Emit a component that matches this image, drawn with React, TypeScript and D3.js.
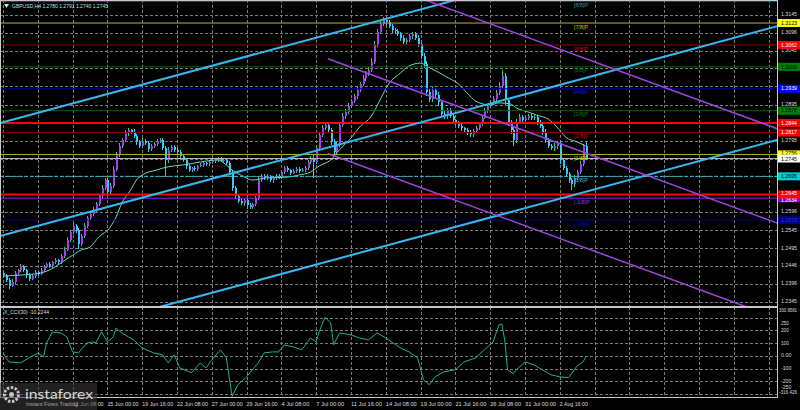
import React from "react";
import * as d3 from "d3";

// GBPUSD H4 closes, one per bar (open of a bar = previous close)
const firstOpen = 1.2425;
const closes = [
  1.2420, 1.2406, 1.2390, 1.2401, 1.2426, 1.2434, 1.2445, 1.2434, 1.2420, 1.2409, 1.2417, 1.2429, 1.2423, 1.2434, 1.2443, 1.2451, 1.2445, 1.2456, 1.2462, 1.2456,
  1.2473, 1.2490, 1.2518, 1.2540, 1.2557, 1.2546, 1.2507, 1.2529, 1.2557, 1.2579, 1.2590, 1.2601, 1.2618, 1.2640, 1.2663, 1.2685, 1.2652, 1.2668, 1.2713, 1.2755,
  1.2780, 1.2797, 1.2816, 1.2824, 1.2819, 1.2808, 1.2791, 1.2780, 1.2794, 1.2788, 1.2771, 1.2780, 1.2785, 1.2794, 1.2797, 1.2774, 1.2741, 1.2769, 1.2777, 1.2769,
  1.2763, 1.2752, 1.2741, 1.2724, 1.2713, 1.2719, 1.2716, 1.2724, 1.2727, 1.2732, 1.2730, 1.2735, 1.2738, 1.2741, 1.2744, 1.2738, 1.2741, 1.2732, 1.2707, 1.2663,
  1.2640, 1.2627, 1.2621, 1.2629, 1.2615, 1.2610, 1.2618, 1.2635, 1.2685, 1.2696, 1.2691, 1.2696, 1.2685, 1.2691, 1.2696, 1.2693, 1.2707, 1.2719, 1.2713, 1.2705,
  1.2710, 1.2716, 1.2710, 1.2713, 1.2719, 1.2735, 1.2746, 1.2735, 1.2774, 1.2810, 1.2830, 1.2838, 1.2824, 1.2791, 1.2763, 1.2783, 1.2838, 1.2863, 1.2875, 1.2891,
  1.2905, 1.2919, 1.2936, 1.2953, 1.2969, 1.2981, 1.2992, 1.3014, 1.3061, 1.3098, 1.3120, 1.3131, 1.3125, 1.3114, 1.3103, 1.3100, 1.3092, 1.3081, 1.3070, 1.3075,
  1.3086, 1.3092, 1.3081, 1.3064, 1.3031, 1.3008, 1.2930, 1.2911, 1.2936, 1.2922, 1.2902, 1.2869, 1.2863, 1.2880, 1.2863, 1.2852, 1.2844, 1.2836, 1.2830, 1.2824,
  1.2819, 1.2813, 1.2822, 1.2830, 1.2841, 1.2858, 1.2877, 1.2891, 1.2900, 1.2911, 1.2928, 1.2947, 1.2975, 1.2908, 1.2847, 1.2824, 1.2797, 1.2847, 1.2861, 1.2852,
  1.2858, 1.2863, 1.2858, 1.2861, 1.2847, 1.2836, 1.2819, 1.2797, 1.2780, 1.2774, 1.2780, 1.2788, 1.2741, 1.2719, 1.2702, 1.2685, 1.2674, 1.2691, 1.2708, 1.2730,
  1.2780, 1.2745,
];
// wick lengths in pips above / below the body
const upperWick = [
  6, 4, 5, 8, 5, 4, 7, 3, 4, 5, 6, 4, 3, 5, 6, 4, 5, 3, 6, 4,
  5, 7, 8, 6, 9, 5, 4, 6, 7, 5, 6, 8, 5, 7, 9, 6, 5, 8, 10, 7,
  8, 6, 9, 5, 4, 7, 6, 5, 8, 4, 6, 5, 7, 4, 6, 5, 7, 8, 5, 6,
  4, 5, 6, 4, 5, 3, 5, 4, 6, 5, 4, 5, 3, 6, 4, 5, 4, 6, 5, 7,
  6, 5, 7, 4, 6, 5, 4, 6, 8, 7, 5, 6, 4, 5, 7, 5, 6, 4, 5, 4,
  5, 4, 6, 5, 4, 7, 6, 8, 9, 7, 8, 10, 6, 5, 7, 8, 6, 9, 7, 8,
  6, 7, 8, 6, 9, 7, 8, 10, 12, 9, 8, 8, 6, 7, 5, 6, 7, 5, 8, 6,
  7, 5, 6, 8, 6, 7, 10, 8, 9, 6, 7, 5, 8, 6, 5, 7, 4, 6, 5, 4,
  5, 6, 4, 5, 7, 6, 8, 6, 7, 9, 8, 10, 17, 9, 7, 6, 8, 9, 7, 6,
  5, 6, 7, 5, 6, 4, 5, 7, 6, 5, 8, 6, 5, 4, 6, 5, 6, 7, 5, 8,
  6, 11,
];
const lowerWick = [
  5, 6, 9, 4, 5, 6, 4, 5, 7, 6, 4, 5, 6, 4, 5, 3, 6, 5, 4, 7,
  5, 6, 4, 7, 5, 8, 14, 6, 5, 7, 6, 4, 5, 6, 8, 7, 9, 6, 5, 4,
  6, 5, 4, 7, 6, 5, 8, 7, 6, 5, 9, 6, 5, 4, 7, 6, 48, 8, 6, 5,
  7, 6, 5, 8, 6, 7, 5, 6, 4, 5, 6, 5, 4, 6, 5, 4, 6, 5, 7, 8,
  9, 7, 6, 8, 10, 7, 6, 5, 6, 5, 7, 6, 5, 8, 6, 5, 4, 6, 5, 6,
  4, 5, 6, 4, 5, 6, 5, 44, 6, 7, 5, 6, 8, 9, 10, 7, 5, 6, 7, 5,
  6, 5, 7, 6, 5, 8, 6, 7, 5, 6, 7, 5, 8, 6, 9, 7, 6, 8, 7, 6,
  5, 7, 6, 8, 9, 10, 12, 8, 9, 7, 10, 8, 7, 9, 6, 8, 7, 6, 8, 9,
  8, 7, 9, 6, 5, 6, 4, 5, 6, 5, 7, 6, 5, 14, 12, 10, 16, 8, 6, 7,
  6, 5, 7, 6, 8, 7, 9, 8, 7, 6, 8, 9, 10, 7, 9, 8, 17, 8, 6, 5,
  6, 5,
];

// moving average, read at bar indices
const maBars = [0, 6, 13, 16, 20, 23, 27, 30, 33, 37, 39, 41, 44, 46, 48, 53, 57, 62, 68, 74, 77, 79, 82, 86, 91, 98, 102, 106, 109, 113, 116, 120, 123, 127, 130, 133, 137, 140, 144, 146, 150, 153, 157, 160, 163, 168, 171, 175, 177, 181, 184, 188, 191, 194, 198, 201];
const maValues = [1.2417, 1.2420, 1.2426, 1.2434, 1.2454, 1.2470, 1.2490, 1.2498, 1.2526, 1.2554, 1.2582, 1.2621, 1.2657, 1.2685, 1.2699, 1.2713, 1.2722, 1.2727, 1.2735, 1.2741, 1.2727, 1.2713, 1.2699, 1.2685, 1.2691, 1.2693, 1.2699, 1.2707, 1.2724, 1.2741, 1.2769, 1.2802, 1.2833, 1.2863, 1.2908, 1.2953, 1.2983, 1.3003, 1.3011, 1.3003, 1.2986, 1.2972, 1.2953, 1.2928, 1.2905, 1.2894, 1.2900, 1.2897, 1.2886, 1.2875, 1.2866, 1.2855, 1.2833, 1.2805, 1.2791, 1.2780];

// CCI(30), read at bar indices
const cciBars = [0, 2, 6, 9, 12, 14, 15, 17, 20, 22, 24, 26, 29, 31, 32, 34, 36, 38, 39, 41, 45, 48, 52, 55, 57, 59, 61, 65, 68, 70, 72, 75, 77, 79, 81, 84, 88, 90, 93, 95, 97, 100, 103, 106, 108, 109, 111, 113, 114, 116, 120, 123, 126, 129, 132, 137, 140, 143, 145, 147, 149, 152, 156, 159, 163, 166, 169, 171, 172, 173, 174, 176, 177, 180, 183, 186, 189, 192, 195, 197, 198, 200, 201];
const cciValues = [23, -47, -55, -16, 23, -8, 101, 187, 179, 148, 31, 23, 101, 109, 101, 187, 109, 148, 218, 179, 125, 62, 23, 8, -55, 8, -94, -133, -55, -94, -31, 47, -16, -316.426, -226, -164, -55, 23, 31, 31, 86, 70, 47, 140, 109, 187, 300.9581, 257, 86, 179, 164, 140, 125, 179, 140, 62, 31, -16, -187, -226, -164, -125, -109, -47, -16, 47, 109, 242, 250, 125, -109, -140, -109, -47, -70, -109, -148, -164, -171, -109, -78, -47, -10.2244];

const priceTicks = [1.3145, 1.3096, 1.3045, 1.2996, 1.2946, 1.2895, 1.2845, 1.2795, 1.2745, 1.2695, 1.2645, 1.2596, 1.2545, 1.2495, 1.2446, 1.2396, 1.2345];
const cciTicks = [250, 200, 100, 0, -100, -200, -250];
const cciTickText = ["250", "200", "100", "0.00", "-100", "-200", "-250"];
const cciMax = 300.9581;
const cciMin = -316.426;
const cciGrid = [300, 200, 100, 0, -100, -200, -300];

const timeLabels = ["12 Jun 08:00", "15 Jun 00:00", "19 Jun 16:00", "22 Jun 08:00", "27 Jun 00:00", "29 Jun 16:00", "4 Jul 08:00", "7 Jul 00:00", "11 Jul 16:00", "14 Jul 08:00", "19 Jul 00:00", "21 Jul 16:00", "26 Jul 08:00", "31 Jul 00:00", "2 Aug 16:00"];
const timeLabelBars = [24, 36, 48, 60, 72, 84, 96, 108, 120, 132, 144, 156, 168, 180, 192];
const gridBars = [0, 12, 24, 36, 48, 60, 72, 84, 96, 108, 120, 132, 144, 156, 168, 180, 192, 204, 216, 228, 240, 252, 264];

// Murray math levels
const murrayNames = ["[8/8]P", "[7/8]P", "[6/8]P", "[5/8]P", "[4/8]P", "[3/8]P", "[2/8]P", "[1/8]P", "[0/8]P", "[-1/8]P", "[-2/8]P"];
const murrayPrices = [1.31836, 1.31226, 1.30615, 1.30005, 1.29395, 1.28784, 1.28174, 1.27563, 1.26953, 1.26343, 1.25732];
const murrayText = ["", "1.3123", "1.3062", "1.3000", "1.2939", "1.2878", "1.2817", "1.2756", "1.2695", "1.2634", "1.2573"];
const murrayLine = ["#008080", "#b4b42c", "#8b0000", "#006400", "#0000a0", "#006400", "#8b0000", "#b4b42c", "#22bcd0", "#8a2be2", "#000080"];
const murrayTextColor = ["#1aa0b0", "#c8c800", "#d00000", "#008000", "#1010ff", "#008000", "#d00000", "#c8c800", "#22c4d8", "#9a30e0", "#0000c8"];
const murrayBox = ["", "#ffff00", "#ff0000", "#008000", "#0000ff", "#008000", "#ff0000", "#ffff00", "#00ced1", "#9400d3", "#00008b"];
const murrayBoxText = ["", "#000", "#fff", "#000", "#fff", "#000", "#fff", "#000", "#000", "#fff", "#3030c0"];

// support / resistance lines
const srPrices = [1.2844, 1.2645];
const srText = ["1.2844", "1.2645"];

// regression channels: bar index and prices at both ends
const upChannel = { from: -1, to: 267, start: [1.2844, 1.2529, 1.2211], end: [1.3429, 1.3114, 1.2797] };
const downChannel = { from: 112, to: 267, start: [1.3286, 1.3023, 1.2759], end: [1.2828, 1.2565, 1.2300] };

const FONT = "Liberation Sans, Arial, sans-serif";

export default function App() {
  const right = 777;
  const mainBottom = 306;
  const cciTop = 307;
  const cciBottom = 397;

  const x = d3.scaleLinear().domain([0, 201]).range([3, 3 + 201 * 2.9]);
  const y = d3.scaleLinear().domain([1.2345, 1.3145]).range([302, 15]);
  const cy = d3.scaleLinear().domain([cciMin, cciMax]).range([396.3, 317.4]);

  const bars = closes.map((c, i) => {
    const o = i === 0 ? firstOpen : closes[i - 1];
    const h = Math.max(o, c) + upperWick[i] / 10000;
    const l = Math.min(o, c) - lowerWick[i] / 10000;
    return { i, o, h, l, c };
  });
  const last = bars[bars.length - 1];

  const maLine = d3
    .line<number>()
    .x((_, k) => x(maBars[k]))
    .y((v) => y(v))
    .curve(d3.curveMonotoneX);
  const cciLine = d3
    .line<number>()
    .x((_, k) => x(cciBars[k]))
    .y((v) => cy(v));

  // coloured price boxes on the right scale: [price, box colour, text colour, text, text nudge]
  const boxes: [number, string, string, string, number][] = [];
  murrayPrices.forEach((p, k) => {
    if (murrayBox[k]) boxes.push([p, murrayBox[k], murrayBoxText[k], murrayText[k], k === 7 ? -1.2 : k === 9 ? 1.6 : 0]);
  });
  srPrices.forEach((p, k) => boxes.push([p, "#ff0000", "#fff", srText[k], k === 1 ? -1.6 : 0]));
  boxes.push([last.c, "#ffffff", "#000", last.c.toFixed(4), 1.2]);
  const visibleTicks = priceTicks.filter((p) => boxes.every((b) => Math.abs(y(p) - y(b[0])) >= 5));

  const gridStroke = "#7a7a7a";
  const labelFill = "#dcdcdc";

  return (
    <svg width={800} height={410} style={{ position: "absolute", left: 0, top: 0, background: "#000" }} fontFamily={FONT}>
      <defs>
        <clipPath id="mainClip">
          <rect x={0} y={0} width={right} height={mainBottom} />
        </clipPath>
        <clipPath id="cciClip">
          <rect x={0} y={cciTop} width={right} height={cciBottom - cciTop} />
        </clipPath>
      </defs>
      <rect width={800} height={410} fill="#000" />

      {/* grid */}
      <g stroke={gridStroke} strokeDasharray="3,2" shapeRendering="crispEdges">
        {priceTicks.map((p) => (
          <line key={"h" + p} x1={0} x2={right} y1={Math.round(y(p)) + 0.5} y2={Math.round(y(p)) + 0.5} />
        ))}
        {gridBars.map((b) => (
          <line key={"v" + b} x1={Math.round(x(b)) + 0.5} x2={Math.round(x(b)) + 0.5} y1={0} y2={mainBottom} />
        ))}
        {cciGrid.map((v) => (
          <line key={"c" + v} x1={0} x2={right} y1={Math.round(cy(v)) + 0.5} y2={Math.round(cy(v)) + 0.5} />
        ))}
        {gridBars.map((b) => (
          <line key={"cv" + b} x1={Math.round(x(b)) + 0.5} x2={Math.round(x(b)) + 0.5} y1={cciTop} y2={cciBottom} />
        ))}
      </g>

      {/* candles */}
      <g clipPath="url(#mainClip)" shapeRendering="crispEdges">
        {bars.map((b) => {
          const up = b.c >= b.o;
          const cx = Math.round(x(b.i));
          const top = y(Math.max(b.o, b.c));
          const bot = y(Math.min(b.o, b.c));
          return (
            <g key={b.i}>
              <line x1={cx + 0.5} x2={cx + 0.5} y1={y(b.h)} y2={y(b.l)} stroke={up ? "#2fd06a" : "#3cc8f2"} strokeWidth={1} />
              <rect x={cx - 0.5} y={top} width={2} height={Math.max(1, bot - top)} fill={up ? "#a53cf0" : "#3cc8f2"} />
            </g>
          );
        })}
      </g>

      {/* moving average */}
      <path d={maLine(maValues) ?? ""} fill="none" stroke="#6fd8c2" strokeWidth={1} clipPath="url(#mainClip)" />

      {/* Murray levels */}
      <g clipPath="url(#mainClip)">
        {murrayPrices.map((p, k) => (
          <line key={"m" + k} x1={0} x2={right} y1={y(p)} y2={y(p)} stroke={murrayLine[k]} strokeWidth={1}
            strokeDasharray={k === 8 ? "4,2" : undefined} />
        ))}
        {srPrices.map((p) => (
          <line key={"sr" + p} x1={0} x2={right} y1={y(p)} y2={y(p)} stroke="#ff0000" strokeWidth={2} />
        ))}
        <line x1={0} x2={right} y1={y(last.c)} y2={y(last.c)} stroke="#b8b8b8" strokeWidth={1} />
        {murrayNames.map((n, k) => (
          <text key={"mn" + k} x={574} y={y(murrayPrices[k]) + 4} fontSize={6} fill={murrayTextColor[k]} dominantBaseline="middle"
            textLength={n.length > 6 ? 16 : 14} lengthAdjust="spacingAndGlyphs">
            {n}
          </text>
        ))}
      </g>

      {/* regression channels */}
      <g clipPath="url(#mainClip)" fill="none">
        {upChannel.start.map((p, k) => (
          <line key={"uc" + k} x1={x(upChannel.from)} y1={y(p)} x2={x(upChannel.to)} y2={y(upChannel.end[k])} stroke="#36b8ee" strokeWidth={2} />
        ))}
        {downChannel.start.map((p, k) => (
          <line key={"dc" + k} x1={x(downChannel.from)} y1={y(p)} x2={x(downChannel.to)} y2={y(downChannel.end[k])} stroke="#9c44dc" strokeWidth={1.5} />
        ))}
      </g>

      {/* CCI */}
      <path d={cciLine(cciValues) ?? ""} fill="none" stroke="#24ad94" strokeWidth={1} clipPath="url(#cciClip)" />

      {/* frames */}
      <g fill="none" stroke="#c8c8c8" strokeWidth={1} shapeRendering="crispEdges">
        <rect x={0.5} y={0.5} width={right} height={mainBottom - 0.5} />
        <rect x={0.5} y={cciTop + 0.5} width={right} height={cciBottom - cciTop - 0.5} />
      </g>

      {/* price axis */}
      <g fontSize={5.5} fill={labelFill}>
        {visibleTicks.map((p) => (
          <text key={"pt" + p} x={781} y={y(p)} dominantBaseline="middle" textLength={16} lengthAdjust="spacingAndGlyphs">
            {p.toFixed(4)}
          </text>
        ))}
      </g>
      {boxes.map((b, k) => (
        <g key={"bx" + k}>
          <rect x={778} y={y(b[0]) - 4} width={22} height={8} fill={b[1]} />
          <text x={781} y={y(b[0]) + 0.3 + b[4]} fontSize={5.5} fill={b[2]} dominantBaseline="middle" textLength={16} lengthAdjust="spacingAndGlyphs">
            {b[3]}
          </text>
        </g>
      ))}

      {/* CCI axis */}
      <g fontSize={5} fill={labelFill}>
        <text x={779} y={311} dominantBaseline="middle" textLength={18} lengthAdjust="spacingAndGlyphs">
          {cciMax.toFixed(4)}
        </text>
        {cciTicks.map((v, k) => (
          <text key={"ct" + k} x={781} y={cy(v)} dominantBaseline="middle" fontSize={5.5}
            textLength={cciTickText[k].length * 2.6} lengthAdjust="spacingAndGlyphs">
            {cciTickText[k]}
          </text>
        ))}
        <text x={779} y={393} dominantBaseline="middle" textLength={18} lengthAdjust="spacingAndGlyphs">
          {cciMin.toFixed(3)}
        </text>
      </g>

      {/* time axis */}
      <g fontSize={6} fill={labelFill}>
        {timeLabels.map((t, k) => (
          <text key={t} x={x(timeLabelBars[k])} y={404.5} dominantBaseline="middle"
            textLength={t.length > 11 ? 31 : 28} lengthAdjust="spacingAndGlyphs">
            {t}
          </text>
        ))}
      </g>

      {/* titles */}
      <path d="M4,4 L9,4 L6.5,8 Z" fill="#dcdcdc" />
      <text x={12} y={6.5} fontSize={6} fill={labelFill} dominantBaseline="middle" textLength={96} lengthAdjust="spacingAndGlyphs">
        {`GBPUSD,H4  ${last.o.toFixed(4)} ${last.h.toFixed(4)} ${last.l.toFixed(4)} ${last.c.toFixed(4)}`}
      </text>
      <text x={4} y={312} fontSize={6} fill={labelFill} dominantBaseline="middle" textLength={45} lengthAdjust="spacingAndGlyphs">
        {`X_CCI(30) ${cciValues[cciValues.length - 1].toFixed(4)}`}
      </text>

      {/* logo */}
      <g>
        <rect x={0} y={383} width={97} height={27} fill="#3a3a3a" opacity={0.55} />
        <circle cx={11.5} cy={394.5} r={7} fill="none" stroke="#c4c4c4" strokeWidth={3} strokeDasharray="2.5,1.5" />
        <circle cx={11.5} cy={394.5} r={2.5} fill="#c4c4c4" />
        <text x={25} y={399} fontSize={13} fill="#d4d4d4" fontFamily="Lato, sans-serif" textLength={68} lengthAdjust="spacingAndGlyphs">
          instaforex
        </text>
        <text x={26} y={406} fontSize={5} fill="#a8a8a8" textLength={52} lengthAdjust="spacingAndGlyphs">
          Instant Forex Trading
        </text>
      </g>
    </svg>
  );
}
